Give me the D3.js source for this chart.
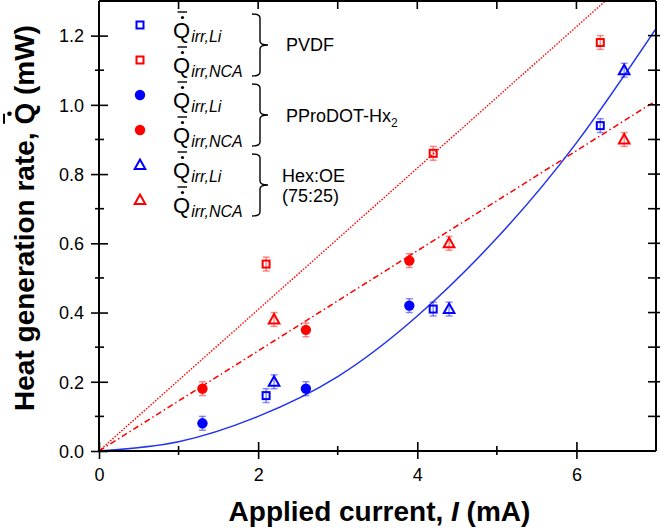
<!DOCTYPE html>
<html><head><meta charset="utf-8">
<script src="https://cdn.jsdelivr.net/npm/d3@7"></script>
<style>body{margin:0;background:#fff}svg{display:block;font-family:Arial,"Liberation Sans",sans-serif}</style>
</head><body><svg id="c" width="661" height="529"></svg>
<script>
// ---- data ----
const pvdfCurrent = [2.1, 4.2, 6.3];
const pvdfLi = [0.16, 0.41, 0.94];
const pvdfNCA = [0.54, 0.86, 1.18];
const pprodotCurrent = [1.3, 2.6, 3.9];
const pprodotLi = [0.08, 0.18, 0.42];
const pprodotNCA = [0.18, 0.35, 0.55];
const hexCurrent = [2.2, 4.4, 6.6];
const hexLi = [0.20, 0.41, 1.10];
const hexNCA = [0.38, 0.60, 0.90];
const errorSize = [0.02, 0.02, 0.02];

const fitPvdfNcaI = [0, 7];
const fitPvdfNcaQ = [0, 1.43];
const fitPprodotNcaI = [0, 7];
const fitPprodotNcaQ = [0, 1.012];
const fitLiI = [0, 1, 2, 3, 4, 5, 6, 7];
const fitLiQ = [0, 0.027, 0.10, 0.215, 0.39, 0.615, 0.89, 1.22];

const xTicks = [0, 2, 4, 6];
const xMinor = [1, 3, 5];
const yTicks = [0, 0.2, 0.4, 0.6, 0.8, 1.0, 1.2];
const yMinor = [0.1, 0.3, 0.5, 0.7, 0.9, 1.1];

const legendSubs = ["irr,Li", "irr,NCA", "irr,Li", "irr,NCA", "irr,Li", "irr,NCA"];
const groupNames = [["PVDF"], ["PProDOT-Hx", "2"], ["Hex:OE", "(75:25)"]];

// ---- layout ----
const BLUE = "#0000ff", RED = "#ff0000";
const L = 99, R = 656, T = 1, B = 451;
const svg = d3.select("#c");
const x = d3.scaleLinear().domain([0, 7]).range([L, R]);
const y = d3.scaleLinear().domain([0, 1.3]).range([B, T]);

svg.append("defs").append("clipPath").attr("id", "clip")
  .append("rect").attr("x", L).attr("y", T).attr("width", R - L).attr("height", B - T);

// fits
const plot = svg.append("g").attr("clip-path", "url(#clip)");
const line = d3.line().x(d => x(d[0])).y(d => y(d[1]));
plot.append("path").datum(d3.zip(fitPvdfNcaI, fitPvdfNcaQ)).attr("d", line)
  .attr("fill", "none").attr("stroke", RED).attr("stroke-width", 1.4).attr("stroke-dasharray", "1.5,1.5");
plot.append("path").datum(d3.zip(fitPprodotNcaI, fitPprodotNcaQ)).attr("d", line)
  .attr("fill", "none").attr("stroke", RED).attr("stroke-width", 1.5).attr("stroke-dasharray", "6,3,1.5,3");
plot.append("path").datum(d3.zip(fitLiI, fitLiQ)).attr("d", line.curve(d3.curveNatural))
  .attr("fill", "none").attr("stroke", "#2233ee").attr("stroke-width", 1.5);

// markers
function marker(g, shape, color) {
  if (shape === "square") g.append("rect").attr("x", -3.5).attr("y", -3.5).attr("width", 7).attr("height", 7)
    .attr("fill", "none").attr("stroke", color).attr("stroke-width", 2);
  else if (shape === "circle") g.append("circle").attr("r", 5.2).attr("fill", color);
  else g.append("path").attr("d", "M0,-5.5L5.3,4L-5.3,4Z").attr("fill", "none")
    .attr("stroke", color).attr("stroke-width", 2).attr("stroke-linejoin", "miter");
}
const series = [
  [pvdfCurrent, pvdfLi, "square", BLUE],
  [pvdfCurrent, pvdfNCA, "square", RED],
  [pprodotCurrent, pprodotLi, "circle", BLUE],
  [pprodotCurrent, pprodotNCA, "circle", RED],
  [hexCurrent, hexLi, "triangle", BLUE],
  [hexCurrent, hexNCA, "triangle", RED]
];
series.forEach(([xs, ys, shape, color]) => {
  xs.forEach((xv, i) => {
    const e = errorSize[i];
    const eg = svg.append("g").attr("stroke", color).attr("stroke-opacity", 0.45).attr("stroke-width", 1.5);
    eg.append("line").attr("x1", x(xv)).attr("x2", x(xv)).attr("y1", y(ys[i] + e)).attr("y2", y(ys[i] - e));
    [ys[i] + e, ys[i] - e].forEach(v => eg.append("line").attr("x1", x(xv) - 3.5).attr("x2", x(xv) + 3.5)
      .attr("y1", y(v)).attr("y2", y(v)));
    marker(svg.append("g").attr("transform", `translate(${x(xv)},${y(ys[i])})`), shape, color);
  });
});

// axes
const xAxis = svg.append("g").attr("transform", `translate(0,${B})`)
  .call(d3.axisBottom(x).tickValues(xTicks).tickFormat(d3.format("d")).tickSize(8));
xAxis.select(".domain").remove();
xAxis.selectAll(".tick line").attr("y1", -9).attr("stroke-width", 1.6);
xAxis.selectAll(".tick text").attr("y", 30).attr("dy", 0).attr("font-size", 18).attr("font-family", "Arial");
const yAxis = svg.append("g").attr("transform", `translate(${L},0)`)
  .call(d3.axisLeft(y).tickValues(yTicks).tickFormat(d3.format(".1f")).tickSize(8));
yAxis.select(".domain").remove();
yAxis.selectAll(".tick line").attr("x1", 9).attr("stroke-width", 1.6);
yAxis.selectAll(".tick text").attr("x", -15).attr("dy", "0.35em").attr("font-size", 18).attr("font-family", "Arial");

const tk = svg.append("g").attr("stroke", "#000").attr("stroke-width", 1.6);
xMinor.forEach(v => tk.append("line").attr("x1", x(v)).attr("x2", x(v)).attr("y1", B - 5).attr("y2", B + 4));
yMinor.forEach(v => tk.append("line").attr("x1", L - 4).attr("x2", L + 5).attr("y1", y(v)).attr("y2", y(v)));
xTicks.concat(xMinor).forEach(v => { if (v > 0) tk.append("line").attr("x1", x(v)).attr("x2", x(v)).attr("y1", T).attr("y2", T + 8); });
yTicks.concat(yMinor).forEach(v => { if (v > 0) tk.append("line").attr("x1", R - 8).attr("x2", R + 4).attr("y1", y(v)).attr("y2", y(v)); });

const fr = svg.append("g").attr("stroke", "#000").attr("stroke-width", 2).attr("fill", "none");
fr.append("line").attr("x1", L).attr("x2", R).attr("y1", B).attr("y2", B);
fr.append("line").attr("x1", L).attr("x2", L).attr("y1", T).attr("y2", B);
fr.append("line").attr("x1", L).attr("x2", R).attr("y1", T).attr("y2", T);
fr.append("line").attr("x1", R).attr("x2", R).attr("y1", T).attr("y2", B);

// x label
const xl = svg.append("text").attr("x", (L + R) / 2 + 2).attr("y", 521).attr("text-anchor", "middle")
  .attr("font-size", 28).attr("font-weight", "bold");
xl.append("tspan").text("Applied current, ");
xl.append("tspan").attr("font-style", "italic").text("I");
xl.append("tspan").text(" (mA)");

// y label
const yg = svg.append("g").attr("transform", "translate(34,218) rotate(-90)");
const yl = yg.append("text").attr("x", 0).attr("y", 0).attr("text-anchor", "middle")
  .attr("font-size", 28).attr("font-weight", "bold");
const pre = "Heat generation rate, ";
yl.text(pre + "Q (mW)");
const node = yl.node();
const qStart = node.getStartPositionOfChar(pre.length).x;
const qEnd = node.getEndPositionOfChar(pre.length).x;
const qc = (qStart + qEnd) / 2;
yg.append("circle").attr("cx", qc).attr("cy", -24.5).attr("r", 2.3).attr("fill", "#000");
yg.append("line").attr("x1", qStart + 1).attr("x2", qStart + 11).attr("y1", -30).attr("y2", -30)
  .attr("stroke", "#000").attr("stroke-width", 2);

// legend
const shapes = ["square", "square", "circle", "circle", "triangle", "triangle"];
const colors = [BLUE, RED, BLUE, RED, BLUE, RED];
legendSubs.forEach((s, i) => {
  const ry = 25 + 35 * i;
  marker(svg.append("g").attr("transform", `translate(140,${ry})`), shapes[i], colors[i]);
  const t = svg.append("text").attr("x", 173).attr("y", ry + 13).attr("font-size", 22);
  t.append("tspan").text("Q");
  t.append("tspan").attr("font-size", 16).attr("font-style", "italic").attr("dy", 4).attr("dx", 1).text(s);
  svg.append("circle").attr("cx", 182.5).attr("cy", ry - 7.5).attr("r", 1.6).attr("fill", "#000");
  svg.append("line").attr("x1", 177.5).attr("x2", 187).attr("y1", ry - 13).attr("y2", ry - 13)
    .attr("stroke", "#000").attr("stroke-width", 1.4);
});
groupNames.forEach((g, k) => {
  const yt = 25 + 70 * k - 11, yb = 25 + 70 * k + 35 + 16, ym = (yt + yb) / 2;
  const x0 = 252, x1 = 260, x2 = 268;
  svg.append("path").attr("d",
    `M${x0},${yt}Q${x1},${yt} ${x1},${yt + 4}L${x1},${ym - 4}Q${x1},${ym} ${x2},${ym}Q${x1},${ym} ${x1},${ym + 4}L${x1},${yb - 4}Q${x1},${yb} ${x0},${yb}`)
    .attr("fill", "none").attr("stroke", "#000").attr("stroke-width", 1.4);
  if (k === 0) svg.append("text").attr("x", 286).attr("y", ym + 6).attr("font-size", 18).text(g[0]);
  if (k === 1) {
    const t = svg.append("text").attr("x", 286).attr("y", ym + 7).attr("font-size", 18);
    t.append("tspan").text(g[0]);
    t.append("tspan").attr("font-size", 12).attr("dy", 5).text(g[1]);
  }
  if (k === 2) {
    svg.append("text").attr("x", 282).attr("y", ym - 3).attr("font-size", 18).text(g[0]);
    svg.append("text").attr("x", 282).attr("y", ym + 17).attr("font-size", 18).text(g[1]);
  }
});
</script></body></html>
